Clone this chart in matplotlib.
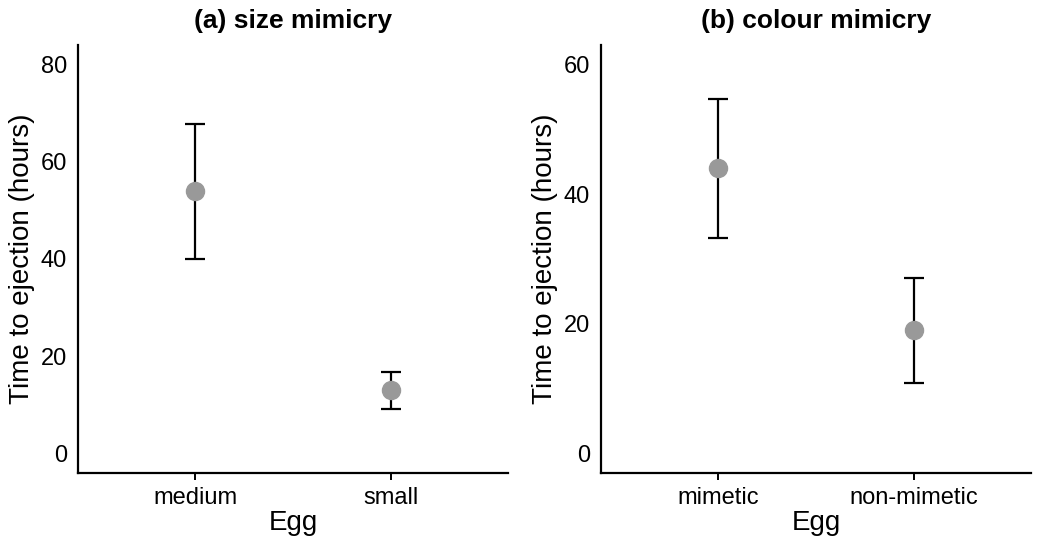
import numpy as np
import matplotlib
matplotlib.use("Agg")
import matplotlib.pyplot as plt

plt.rcParams['font.family'] = ['Liberation Sans', 'DejaVu Sans']

# panel (a): size mimicry
size_eggs = ['medium', 'small']
size_mean = [54.0, 13.0]
size_low = [40.1, 9.2]
size_high = [67.8, 16.8]

# panel (b): colour mimicry
colour_eggs = ['mimetic', 'non-mimetic']
colour_mean = [44.0, 19.0]
colour_low = [33.2, 10.9]
colour_high = [54.7, 27.0]

fig = plt.figure(figsize=(10.37, 5.38), dpi=100)
ax1 = fig.add_axes([0.0752, 0.1208, 0.4147, 0.7956])
ax2 = fig.add_axes([0.5796, 0.1208, 0.4147, 0.7956])


def panel(ax, eggs, mean, low, high, title, ymax, yticks):
    x = np.arange(1, len(eggs) + 1)
    mean = np.array(mean)
    err = [mean - np.array(low), np.array(high) - mean]
    ax.errorbar(x, mean, yerr=err, fmt='none', ecolor='black',
                elinewidth=1.6, capsize=7.5, capthick=1.6, zorder=2)
    ax.plot(x, mean, 'o', color='#999999', markersize=13, zorder=3)
    ax.set_xlim(0.4, 2.6)
    ax.set_ylim(-0.05 * ymax, 1.05 * ymax)
    ax.set_xticks(x)
    ax.set_xticklabels(eggs)
    ax.set_yticks(yticks)
    for s in ['top', 'right']:
        ax.spines[s].set_visible(False)
    for s in ['left', 'bottom']:
        ax.spines[s].set_linewidth(1.6)
    ax.tick_params(axis='x', length=5, width=1.4, labelsize=17, pad=5)
    ax.tick_params(axis='y', length=0, labelsize=17, pad=8)
    ax.set_xlabel('Egg', fontsize=20, labelpad=1)
    ax.set_ylabel('Time to ejection (hours)', fontsize=20, labelpad=4)
    ax.set_title(title, fontsize=19, fontweight='bold', pad=12)


panel(ax1, size_eggs, size_mean, size_low, size_high,
      '(a) size mimicry', 80, [0, 20, 40, 60, 80])
panel(ax2, colour_eggs, colour_mean, colour_low, colour_high,
      '(b) colour mimicry', 60, [0, 20, 40, 60])

fig.savefig('out.png', dpi=100)
